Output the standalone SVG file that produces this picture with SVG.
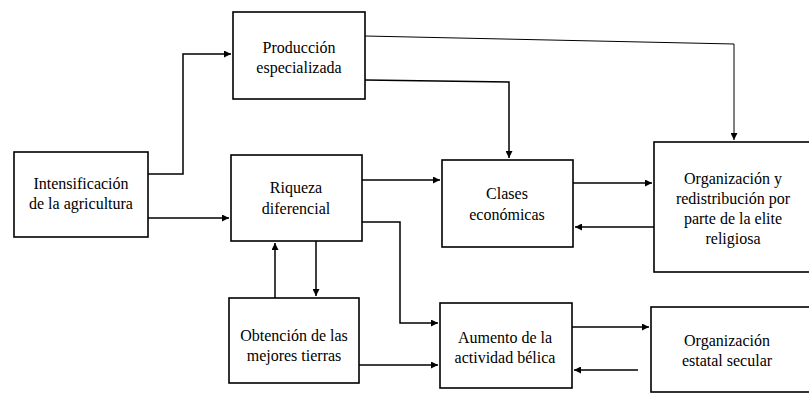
<svg xmlns="http://www.w3.org/2000/svg" width="809" height="394" viewBox="0 0 809 394">
<defs>
<marker id="ah" viewBox="0 0 10 10" refX="10" refY="5" markerWidth="9" markerHeight="7" markerUnits="userSpaceOnUse" orient="auto">
<path d="M0,0 L10,5 L0,10 Z" fill="#000"/>
</marker>
</defs>
<rect width="809" height="394" fill="#fff"/>
<g id="connectors" fill="none" stroke="#000" stroke-width="1.5">
<polyline points="148,174 183,174 183,54 231,54" marker-end="url(#ah)"/>
<polyline points="148,218 229,218" marker-end="url(#ah)"/>
<polyline stroke-width="1" points="365,36 734,44 734,140" marker-end="url(#ah)"/>
<polyline points="365,80 509,82 509,158" marker-end="url(#ah)"/>
<polyline points="362,180 440,180" marker-end="url(#ah)"/>
<polyline points="573,183 652,183" marker-end="url(#ah)"/>
<polyline points="654,227 575,227" marker-end="url(#ah)"/>
<polyline points="362,222 400,222 400,323 438,323" marker-end="url(#ah)"/>
<polyline points="359,365 438,365" marker-end="url(#ah)"/>
<polyline points="275,298 275,243" marker-end="url(#ah)"/>
<polyline points="316,241 316,296" marker-end="url(#ah)"/>
<polyline points="572,327 649,327" marker-end="url(#ah)"/>
<polyline points="638,370 574,370" marker-end="url(#ah)"/>
</g>
<g id="produccion">
<rect x="233" y="12" width="132" height="87" fill="#fff" stroke="#000" stroke-width="1.6"/>
<text x="299" y="53" font-family="Liberation Serif, Times New Roman, serif" font-size="16" text-anchor="middle">Producción</text>
<text x="299" y="73" font-family="Liberation Serif, Times New Roman, serif" font-size="16" text-anchor="middle">especializada</text>
</g>
<g id="intensificacion">
<rect x="14" y="152" width="134" height="85" fill="#fff" stroke="#000" stroke-width="1.6"/>
<text x="81" y="189" font-family="Liberation Serif, Times New Roman, serif" font-size="16" text-anchor="middle">Intensificación</text>
<text x="81" y="209" font-family="Liberation Serif, Times New Roman, serif" font-size="16" text-anchor="middle">de la agricultura</text>
</g>
<g id="riqueza">
<rect x="231" y="155" width="131" height="86" fill="#fff" stroke="#000" stroke-width="1.6"/>
<text x="296" y="193" font-family="Liberation Serif, Times New Roman, serif" font-size="16" text-anchor="middle">Riqueza</text>
<text x="296" y="214" font-family="Liberation Serif, Times New Roman, serif" font-size="16" text-anchor="middle">diferencial</text>
</g>
<g id="clases">
<rect x="442" y="160" width="131" height="87" fill="#fff" stroke="#000" stroke-width="1.6"/>
<text x="507" y="199" font-family="Liberation Serif, Times New Roman, serif" font-size="16" text-anchor="middle">Clases</text>
<text x="507" y="220" font-family="Liberation Serif, Times New Roman, serif" font-size="16" text-anchor="middle">económicas</text>
</g>
<g id="org-religiosa">
<rect x="654" y="142" width="170" height="130" fill="#fff" stroke="#000" stroke-width="1.6"/>
<text x="733" y="184" font-family="Liberation Serif, Times New Roman, serif" font-size="16" text-anchor="middle">Organización y</text>
<text x="733" y="204" font-family="Liberation Serif, Times New Roman, serif" font-size="16" text-anchor="middle">redistribución por</text>
<text x="733" y="224" font-family="Liberation Serif, Times New Roman, serif" font-size="16" text-anchor="middle">parte de la elite</text>
<text x="733" y="244" font-family="Liberation Serif, Times New Roman, serif" font-size="16" text-anchor="middle">religiosa</text>
</g>
<g id="obtencion">
<rect x="229" y="298" width="130" height="85" fill="#fff" stroke="#000" stroke-width="1.6"/>
<text x="294" y="341" font-family="Liberation Serif, Times New Roman, serif" font-size="16" text-anchor="middle">Obtención de las</text>
<text x="294" y="361" font-family="Liberation Serif, Times New Roman, serif" font-size="16" text-anchor="middle">mejores tierras</text>
</g>
<g id="aumento">
<rect x="440" y="303" width="132" height="85" fill="#fff" stroke="#000" stroke-width="1.6"/>
<text x="505" y="343" font-family="Liberation Serif, Times New Roman, serif" font-size="16" text-anchor="middle">Aumento de la</text>
<text x="505" y="363" font-family="Liberation Serif, Times New Roman, serif" font-size="16" text-anchor="middle">actividad bélica</text>
</g>
<g id="org-secular">
<rect x="651" y="307" width="170" height="85" fill="#fff" stroke="#000" stroke-width="1.6"/>
<text x="727" y="346" font-family="Liberation Serif, Times New Roman, serif" font-size="16" text-anchor="middle">Organización</text>
<text x="727" y="366" font-family="Liberation Serif, Times New Roman, serif" font-size="16" text-anchor="middle">estatal secular</text>
</g>
</svg>
